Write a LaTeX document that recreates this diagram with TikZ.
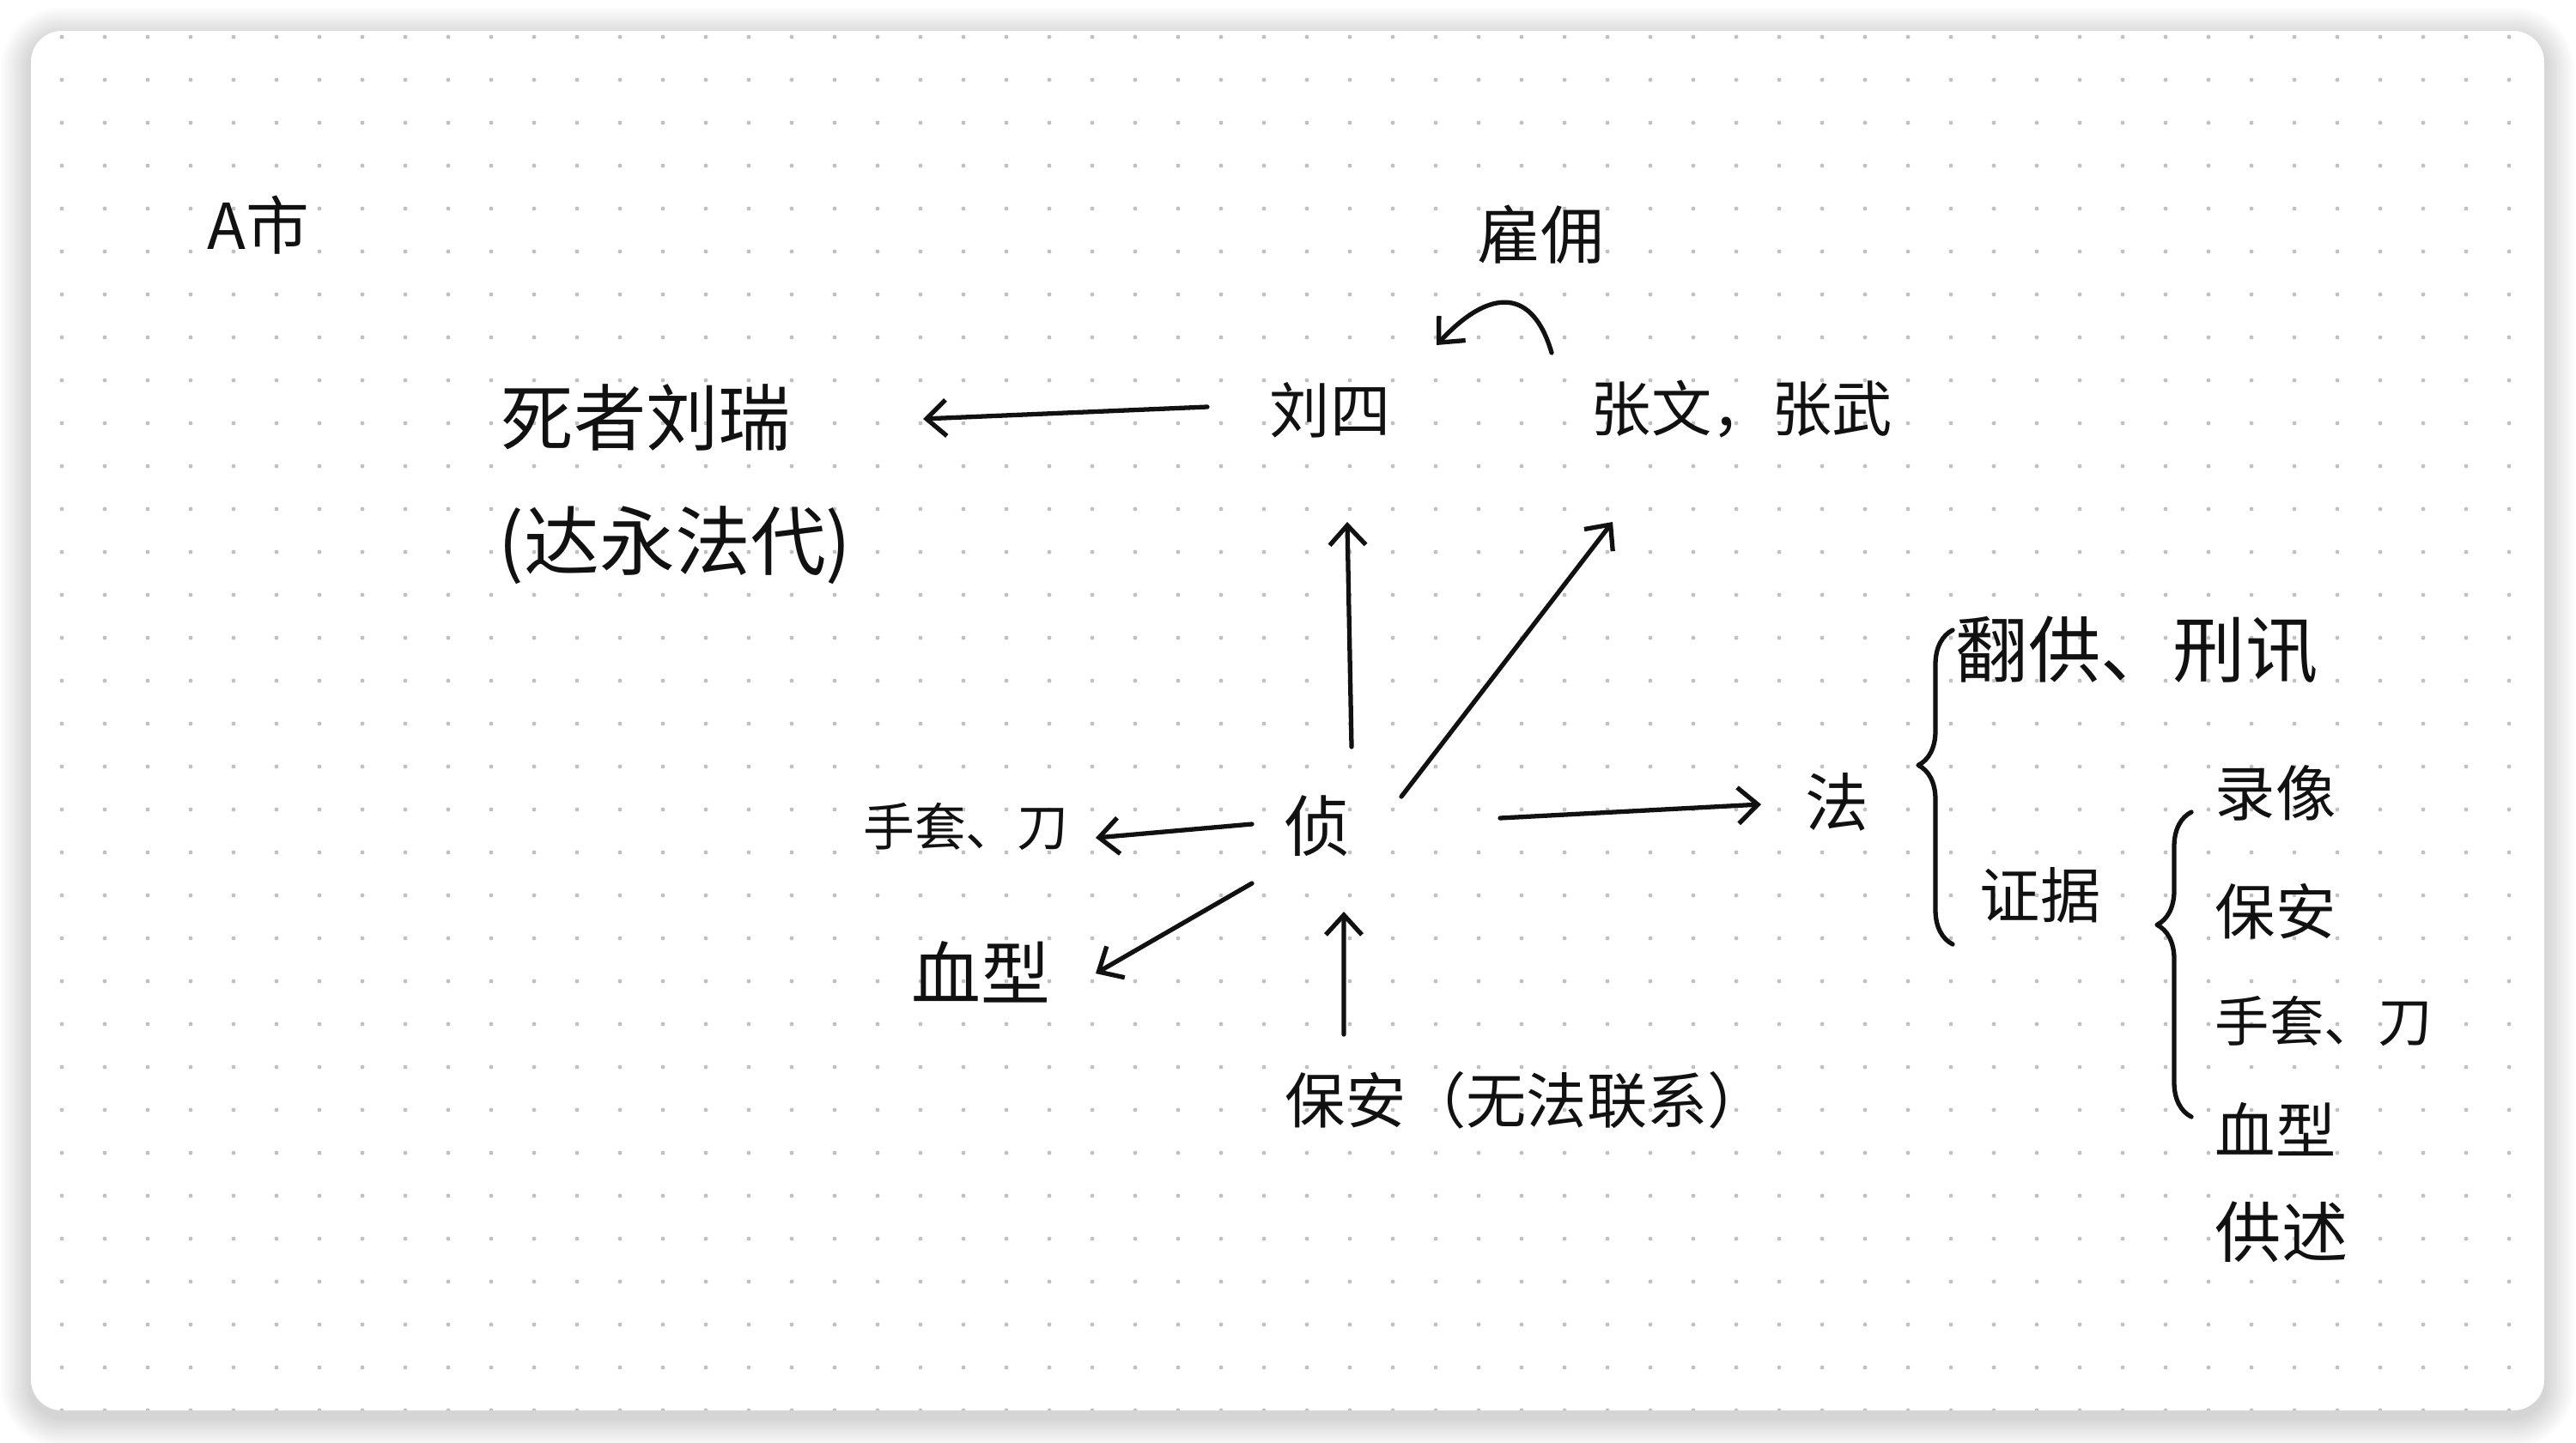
\documentclass[tikz,border=0pt]{standalone}
\usepackage{fontspec}
\usepackage{xcolor}
\usepackage{tikz}
\usetikzlibrary{arrows.meta, calc, decorations.pathreplacing}
\newfontfamily\cjk{Noto Sans CJK SC}
\definecolor{inkblack}{RGB}{17, 17, 17}
\definecolor{dotgray}{RGB}{192, 192, 192}

\begin{document}
\begin{tikzpicture}[>={Straight Barb[length=2.3mm, width=4.2mm]},
    hand/.style={font=\cjk\fontsize{#1}{#1}\selectfont, text=inkblack, inner sep=0pt},
    hand/.default=21,
    stroke/.style={line width=1.5pt, inkblack, line cap=round, line join=round},
    arr/.style={stroke, ->}]
    % Canvas and card with soft shadow
    \useasboundingbox (0,0) rectangle (30,-16.8);
    \fill[white] (0,0) rectangle (30,-16.8);
    \foreach \i [evaluate=\i as \d using \i*0.025] in {1,...,14}
        \fill[black, opacity=0.011, rounded corners=0.36cm+\d cm]
            (0.36-\d,-0.44+\d) rectangle (29.63+\d,-16.51-\d);
    \fill[white, rounded corners=0.36cm] (0.36,-0.36) rectangle (29.63,-16.43);

    % Dot grid
    \begin{scope}
        \clip[rounded corners=0.36cm] (0.36,-0.36) rectangle (29.63,-16.43);
        \foreach \x in {0,...,57}
            \foreach \y in {0,...,32}
                \fill[dotgray] (0.72+0.5*\x,-0.43-0.5*\y) circle (0.024);
    \end{scope}

    % People and places
    \node[hand] (city) at (3.01,-2.62) {A市};
    \node[hand=24, anchor=west] (victim) at (5.83,-4.86) {死者刘瑞};
    \node[hand=25, anchor=west] (victimnote) at (5.80,-6.35) {(达永法代)};
    \node[hand=20] (liusi) at (15.49,-4.78) {刘四};
    \node[hand=20, anchor=west] (zhang) at (18.52,-4.76) {张文，张武};
    \node[hand] (hire) at (17.94,-2.73) {雇佣};

    % Investigation
    \node[hand=22] (zhen) at (15.34,-9.62) {侦};
    \node[hand=17, anchor=east] (glovesL) at (12.45,-9.63) {手套、刀};
    \node[hand=23, anchor=east] (bloodL) at (12.24,-11.32) {血型};
    \node[hand=20, anchor=west] (guard) at (14.96,-12.82) {保安（无法联系）};

    % Court
    \node[hand] (fa) at (21.39,-9.34) {法};
    \node[hand=24, anchor=west] (retract) at (22.77,-7.57) {翻供、刑讯};
    \node[hand=20, anchor=west] (evidence) at (23.05,-10.43) {证据};
    \node[hand=20, anchor=west] (video) at (25.79,-9.24) {录像};
    \node[hand=20, anchor=west] (guardev) at (25.79,-10.62) {保安};
    \node[hand=18, anchor=west] (gloves) at (25.79,-11.90) {手套、刀};
    \node[hand=20, anchor=west] (blood) at (25.79,-13.16) {血型};
    \node[hand=22, anchor=west] (confess) at (25.79,-14.35) {供述};

    % Arrows
    \draw[arr] ([shift={(-1.43,0.04)}]liusi.center) -- ([shift={(4.92,-0.02)}]victim.west);
    \coordinate (hirefrom) at (18.07,-4.11);
    \coordinate (hireto) at (16.73,-4.02);
    \draw[arr] (hirefrom) .. controls (17.85,-3.35) and (17.35,-3.35) .. (hireto);
    \draw[arr] ([shift={(0.40,0.92)}]zhen.center) -- ([shift={(0.20,-1.30)}]liusi.center);
    \draw[arr] ([shift={(0.98,0.34)}]zhen.center) -- ([shift={(0.26,-1.32)}]zhang.west);
    \draw[arr] ([shift={(2.13,0.09)}]zhen.center) -- ([shift={(-0.88,-0.03)}]fa.center);
    \draw[arr] ([shift={(-0.76,0.02)}]zhen.center) -- ([shift={(0.31,-0.13)}]glovesL.east);
    \draw[arr] ([shift={(-0.76,-0.67)}]zhen.center) -- ([shift={(0.52,-0.02)}]bloodL.east);
    \draw[arr] ([shift={(0.69,0.77)}]guard.west) -- ([shift={(0.31,-1.00)}]zhen.center);

    % Braces
    \draw[stroke, decorate, decoration={brace, amplitude=4mm, aspect=0.57}]
        (22.74,-11.0) -- (22.74,-7.34);
    \draw[stroke, decorate, decoration={brace, amplitude=4mm, aspect=0.63}]
        (25.52,-13.01) -- (25.52,-9.46);
\end{tikzpicture}
\end{document}
